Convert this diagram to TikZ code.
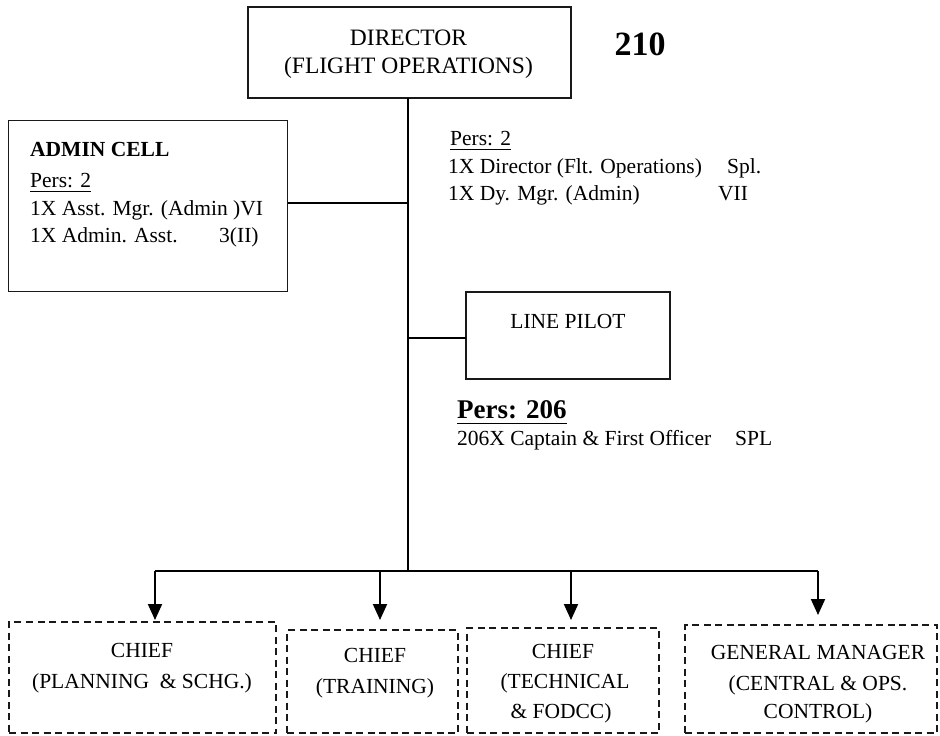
\documentclass[tikz,border=0pt]{standalone}
\usepackage{fontspec}
\setmainfont{Liberation Serif}
\usetikzlibrary{arrows.meta}
\newcommand\myul[2][5pt]{\setbox0\hbox{#2}\rlap{\rule[-#1]{\wd0}{1.4pt}}\box0}
\begin{document}
\begin{tikzpicture}[x=1pt,y=-1pt,
  box/.style={draw=black!90, line width=1.8pt, inner sep=0pt, outer sep=0pt},
  dbox/.style={box, dash pattern=on 7pt off 4.5pt},
  txt/.style={inner sep=0pt, anchor=base, font=\fontsize{21.5}{26}\selectfont},
  ltxt/.style={txt, anchor=base west},
  wire/.style={line width=2pt, draw=black},
  arr/.style={wire, -{Triangle[length=16pt,width=14pt]}}
]
\useasboundingbox (0,0) rectangle (940,736);

% boxes
\node[box, minimum width=323pt, minimum height=91pt] (dir) at (409.5,52.5) {};
\node[box, minimum width=279pt, minimum height=171pt] (adm) at (148,206) {};
\node[box, minimum width=204pt, minimum height=87pt] (lp) at (568,335.5) {};
\node[dbox, minimum width=267pt, minimum height=111pt] (pl) at (142.5,677.5) {};
\node[dbox, minimum width=171pt, minimum height=103pt] (tr) at (372.5,681.5) {};
\node[dbox, minimum width=192pt, minimum height=105pt] (te) at (563,680.5) {};
\node[dbox, minimum width=252pt, minimum height=108pt] (gm) at (811,679) {};

% director text
\node[txt, font=\fontsize{23.5}{28}\selectfont] (d1) at (408.5,45) {DIRECTOR};
\node[txt, font=\fontsize{23.5}{28}\selectfont] (d2) at (408.5,73) {(FLIGHT OPERATIONS)};
\node[txt, font=\fontsize{34}{40}\selectfont\bfseries] (num) at (640,55) {210};

% admin cell text
\node[ltxt, font=\fontsize{21.5}{26}\selectfont\bfseries] (a1) at (30,156) {ADMIN CELL};
\node[ltxt] (a2) at (30,187) {\myul{Pers: 2}};
\node[ltxt] (a3) at (30,215) {1X Asst. Mgr. (Admin )VI};
\node[ltxt] (a4) at (30,242) {1X Admin. Asst.};
\node[ltxt] (a5) at (219,242) {3(II)};

% director personnel text
\node[ltxt] (r1) at (450,145) {\myul{Pers: 2}};
\node[ltxt] (r2) at (448,173) {1X Director (Flt. Operations)};
\node[ltxt] (r3) at (727,173) {Spl.};
\node[ltxt] (r4) at (448,200) {1X Dy. Mgr. (Admin)};
\node[ltxt] (r5) at (718,200) {VII};

% line pilot
\node[txt] (lpt) at (568,328) {LINE PILOT};
\node[ltxt, font=\fontsize{27}{32}\selectfont\bfseries] (p1) at (457,418) {\myul[6pt]{Pers: 206}};
\node[ltxt] (p2) at (457,445) {206X Captain \& First Officer};
\node[ltxt] (p3) at (735,445) {SPL};

% bottom texts
\node[txt] (pl1) at (142,657) {CHIEF};
\node[txt] (pl2) at (142,688) {(PLANNING \ \& SCHG.)};
\node[txt] (tr1) at (375,662) {CHIEF};
\node[txt] (tr2) at (375,693) {(TRAINING)};
\node[txt] (te1) at (563,658) {CHIEF};
\node[txt] (te2) at (565,688) {(TECHNICAL};
\node[txt] (te3) at (561,718) {\& FODCC)};
\node[txt] (gm1) at (818,659) {GENERAL MANAGER};
\node[txt] (gm2) at (818,690) {(CENTRAL \& OPS.};
\node[txt] (gm3) at (818,718) {CONTROL)};

% connectors
\coordinate (top) at (407.5,98);
\coordinate (tadm) at (407.5,203);
\coordinate (tlp) at (407.5,338);
\coordinate (bus) at (407.5,571);
\coordinate (b1) at (155,571);
\coordinate (b2) at (380,571);
\coordinate (b3) at (571,571);
\coordinate (b4) at (818,571);

\draw[wire] (dir.south -| top) -- (bus);
\draw[wire] (adm.east |- tadm) -- (tadm);
\draw[wire] (lp.west |- tlp) -- (tlp);
\draw[wire] (b1) -- (b4);
\draw[arr, shorten >=2pt] (b1) -- (b1 |- pl.north);
\draw[arr, shorten >=10pt] (b2) -- (b2 |- tr.north);
\draw[arr, shorten >=8pt] (b3) -- (b3 |- te.north);
\draw[arr, shorten >=10pt] (b4) -- (b4 |- gm.north);
\end{tikzpicture}
\end{document}
